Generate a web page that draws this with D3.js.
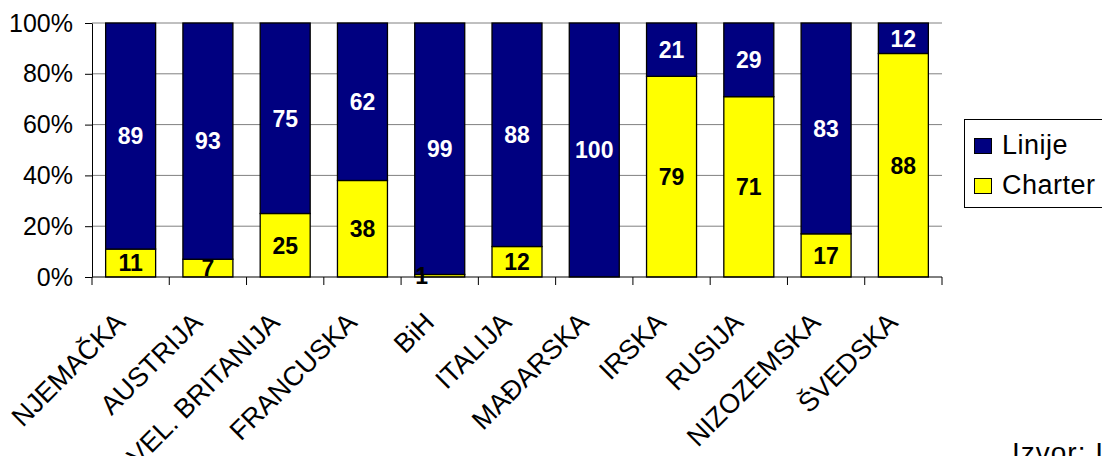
<!DOCTYPE html>
<html>
<head>
<meta charset="utf-8">
<script src="https://cdn.jsdelivr.net/npm/d3@7"></script>
<style>
  html, body { margin: 0; padding: 0; background: #fff; }
  svg { display: block; font-family: "Liberation Sans", Arial, sans-serif; }
</style>
</head>
<body>
<svg id="chart" width="1102" height="456"></svg>
<script>
// ---- data ----
const categories = ["NJEMAČKA", "AUSTRIJA", "VEL. BRITANIJA", "FRANCUSKA", "BiH", "ITALIJA",
                    "MAĐARSKA", "IRSKA", "RUSIJA", "NIZOZEMSKA", "ŠVEDSKA"];
const charter = [11, 7, 25, 38, 1, 12, 0, 79, 71, 17, 88];
const linije  = [89, 93, 75, 62, 99, 88, 100, 21, 29, 83, 12];
const seriesNames = ["Linije", "Charter"];
const yTicks = [0, 0.2, 0.4, 0.6, 0.8, 1.0];
const sourceText = "Izvor: Institut za turizam";

// ---- layout ----
const svg = d3.select("#chart");
const plotL = 92, plotR = 942, plotT = 23, plotB = 277;
const colors = { Linije: "#000080", Charter: "#FFFF00" };

const x = d3.scaleBand().domain(categories).range([plotL, plotR])
  .paddingInner(0.353).paddingOuter(0.1765);
const y = d3.scaleLinear().domain([0, 1]).range([plotB, plotT]);

// gridlines
svg.append("g").selectAll("line").data(yTicks.filter(d => d > 0)).join("line")
  .attr("x1", plotL).attr("x2", plotR)
  .attr("y1", d => y(d)).attr("y2", d => y(d))
  .attr("stroke", "#808080").attr("stroke-width", 1);

// stacked data
const rows = categories.map((c, i) => ({ cat: c, Charter: charter[i] / 100, Linije: linije[i] / 100 }));
const stack = d3.stack().keys(["Charter", "Linije"]);
const layers = stack(rows);

const g = svg.append("g");
layers.forEach(layer => {
  g.append("g").selectAll("rect").data(layer).join("rect")
    .attr("x", d => x(d.data.cat))
    .attr("width", x.bandwidth())
    .attr("y", d => y(d[1]))
    .attr("height", d => Math.max(0, y(d[0]) - y(d[1])))
    .attr("fill", colors[layer.key])
    .attr("stroke", "#000")
    .attr("stroke-width", d => (d[1] - d[0]) > 0 ? 1.3 : 0);
});

// axes
const yAxis = d3.axisLeft(y).tickValues(yTicks).tickFormat(d3.format(".0%"))
  .tickSize(7).tickSizeOuter(0).tickPadding(12);
const ya = svg.append("g").attr("transform", `translate(${plotL},0)`).call(yAxis);
ya.selectAll("text").attr("font-size", 25).attr("fill", "#000")
  .style("font-family", '"Liberation Sans", Arial, sans-serif');
ya.selectAll("line, path").attr("stroke", "#000");

// x axis line + boundary ticks
const step = x.step();
const bounds = d3.range(categories.length + 1).map(i => plotL + i * step);
svg.append("line").attr("x1", plotL).attr("x2", plotR).attr("y1", plotB).attr("y2", plotB)
  .attr("stroke", "#000");
svg.append("g").selectAll("line").data(bounds).join("line")
  .attr("x1", d => d).attr("x2", d => d).attr("y1", plotB).attr("y2", plotB + 8)
  .attr("stroke", "#000");

// category labels via axis
const xAxis = d3.axisBottom(x).tickSize(0).tickSizeOuter(0).tickPadding(0);
const xa = svg.append("g").attr("transform", `translate(0,${plotB})`).call(xAxis);
xa.select(".domain").remove();
xa.selectAll(".tick text")
  .attr("font-size", 27).attr("fill", "#000")
  .style("font-family", '"Liberation Sans", Arial, sans-serif')
  .attr("text-anchor", "end")
  .attr("dy", null).attr("y", 0)
  .attr("transform", "translate(-4,47) rotate(-45)");

// value labels
layers.forEach(layer => {
  g.append("g").selectAll("text").data(layer.filter(d => d[1] - d[0] > 0)).join("text")
    .attr("x", d => x(d.data.cat) + x.bandwidth() / 2 + ((d[1] - d[0]) < 0.03 ? -18 : 0))
    .attr("y", d => y((d[0] + d[1]) / 2))
    .attr("dy", "0.36em")
    .attr("text-anchor", "middle")
    .attr("font-size", 23).attr("font-weight", "bold")
    .attr("fill", layer.key === "Linije" ? "#fff" : "#000")
    .text(d => Math.round((d[1] - d[0]) * 100));
});

// legend
const lg = svg.append("g");
lg.append("rect").attr("x", 964.5).attr("y", 119.5).attr("width", 160).attr("height", 88)
  .attr("fill", "#fff").attr("stroke", "#000");
seriesNames.forEach((name, i) => {
  const yy = 138 + i * 40;
  lg.append("rect").attr("x", 974.5).attr("y", yy + 0.5).attr("width", 17).attr("height", 15)
    .attr("fill", colors[name]).attr("stroke", "#000");
  lg.append("text").attr("x", 1002).attr("y", yy + 16).attr("font-size", 27)
    .attr("letter-spacing", 0.5).attr("fill", "#000")
    .text(name);
});

// source note
svg.append("text").attr("x", 1012).attr("y", 462).attr("font-size", 28)
  .attr("letter-spacing", 1).attr("fill", "#000")
  .text(sourceText);
</script>
</body>
</html>
